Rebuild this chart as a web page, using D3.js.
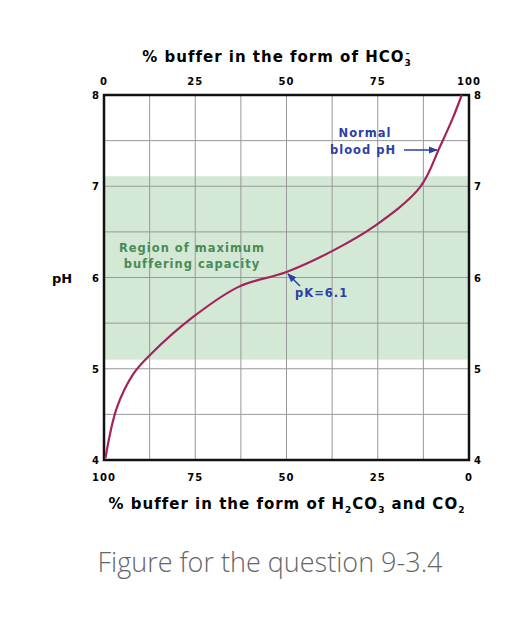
<!DOCTYPE html>
<html><head><meta charset="utf-8">
<script src="https://cdn.jsdelivr.net/npm/d3@7"></script>
<style>body{margin:0;background:#fff}text{font-family:"DejaVu Sans",Arial,sans-serif;font-weight:bold}</style>
</head><body><svg id="c" width="528" height="634"></svg>
<script>
const pctHCO3 = [0.4,3.5,8,12.6,24.5,37,50,63,74,86.6,92,95.7,98];
const pHvals  = [4.02,4.57,4.94,5.15,5.57,5.9,6.06,6.3,6.56,6.99,7.43,7.76,8.0];
const topTicks = [0,25,50,75,100];
const bottomLabels = ["100","75","50","25","0"];
const pHTicks = [4,5,6,7,8];
const bandRange = [5.1,7.11];

const svg = d3.select("#c");
const x = d3.scaleLinear().domain([0,100]).range([104,469]);
const y = d3.scaleLinear().domain([4,8]).range([460,95]);

svg.append("rect").attr("x",x(0)).attr("width",x(100)-x(0)).attr("y",y(bandRange[1])).attr("height",y(bandRange[0])-y(bandRange[1])).attr("fill","#d3e9d6");
const g = svg.append("g");
d3.range(0,100.1,12.5).forEach(v=>g.append("line").attr("x1",x(v)).attr("x2",x(v)).attr("y1",y(4)).attr("y2",y(8)).attr("stroke","#999").attr("stroke-width",1));
d3.range(4,8.01,0.5).forEach(v=>g.append("line").attr("y1",y(v)).attr("y2",y(v)).attr("x1",x(0)).attr("x2",x(100)).attr("stroke","#999").attr("stroke-width",1));
svg.append("rect").attr("x",x(0)).attr("y",y(8)).attr("width",x(100)-x(0)).attr("height",y(4)-y(8)).attr("fill","none").attr("stroke","#111").attr("stroke-width",2.5);

const pts = pctHCO3.map((d,i)=>[d,pHvals[i]]);
svg.append("path").attr("d",d3.line().x(d=>x(d[0])).y(d=>y(d[1])).curve(d3.curveCatmullRom.alpha(0.5))(pts)).attr("fill","none").attr("stroke","#a3245a").attr("stroke-width",2.2);

const fs=10;
topTicks.forEach(t=>svg.append("text").attr("x",x(t)).attr("y",85).attr("text-anchor","middle").attr("font-size",fs).attr("letter-spacing",1).text(t));
topTicks.forEach((t,i)=>svg.append("text").attr("x",x(t)).attr("y",481).attr("text-anchor","middle").attr("font-size",fs).attr("letter-spacing",1).text(bottomLabels[i]));
pHTicks.forEach(p=>{
  svg.append("text").attr("x",99).attr("y",y(p)+4).attr("text-anchor","end").attr("font-size",fs).text(p);
  svg.append("text").attr("x",474).attr("y",y(p)+4).attr("font-size",fs).text(p);
});
svg.append("text").attr("x",52).attr("y",y(6)+5).attr("font-size",13).text("pH");
const tt=svg.append("text").attr("x",277).attr("y",62).attr("text-anchor","middle").attr("font-size",15).attr("letter-spacing",1);
tt.append("tspan").text("% buffer in the form of HCO");
tt.append("tspan").attr("font-size",9).attr("dy",4).text("3");
tt.append("tspan").attr("font-size",9).attr("dy",-10).attr("dx",-6).text("-");
const bt=svg.append("text").attr("x",287).attr("y",509).attr("text-anchor","middle").attr("font-size",15).attr("letter-spacing",1);
bt.append("tspan").text("% buffer in the form of H");
bt.append("tspan").attr("font-size",9).attr("dy",4).text("2");
bt.append("tspan").attr("dy",-4).text("CO");
bt.append("tspan").attr("font-size",9).attr("dy",4).text("3");
bt.append("tspan").attr("dy",-4).text(" and CO");
bt.append("tspan").attr("font-size",9).attr("dy",4).text("2");

svg.append("text").attr("x",192).attr("y",252).attr("text-anchor","middle").attr("font-size",11.5).attr("letter-spacing",1).attr("fill","#4a8a55").text("Region of maximum");
svg.append("text").attr("x",192).attr("y",268).attr("text-anchor","middle").attr("font-size",11.5).attr("letter-spacing",1).attr("fill","#4a8a55").text("buffering capacity");
const blue="#2a3fa8";
svg.append("text").attr("x",365).attr("y",137).attr("text-anchor","middle").attr("font-size",11.5).attr("letter-spacing",1).attr("fill",blue).text("Normal");
svg.append("text").attr("x",330).attr("y",154).attr("font-size",11.5).attr("letter-spacing",1).attr("fill",blue).text("blood pH");
svg.append("defs").append("marker").attr("id","ah").attr("viewBox","0 0 10 10").attr("refX",9).attr("refY",5).attr("markerWidth",6).attr("markerHeight",6).attr("orient","auto").append("path").attr("d","M0,1L10,5L0,9z").attr("fill",blue);
svg.append("line").attr("x1",404).attr("y1",150).attr("x2",437).attr("y2",150).attr("stroke",blue).attr("stroke-width",1.5).attr("marker-end","url(#ah)");
svg.append("line").attr("x1",300).attr("y1",286).attr("x2",288).attr("y2",274).attr("stroke",blue).attr("stroke-width",1.5).attr("marker-end","url(#ah)");
svg.append("text").attr("x",295).attr("y",297).attr("font-size",11.5).attr("letter-spacing",1).attr("fill",blue).text("pK=6.1");

svg.append("text").attr("x",270).attr("y",572).attr("text-anchor","middle").attr("font-size",27).attr("fill","#666").style("font-family","'Open Sans',sans-serif").style("font-weight","300").text("Figure for the question 9-3.4");
</script></body></html>
